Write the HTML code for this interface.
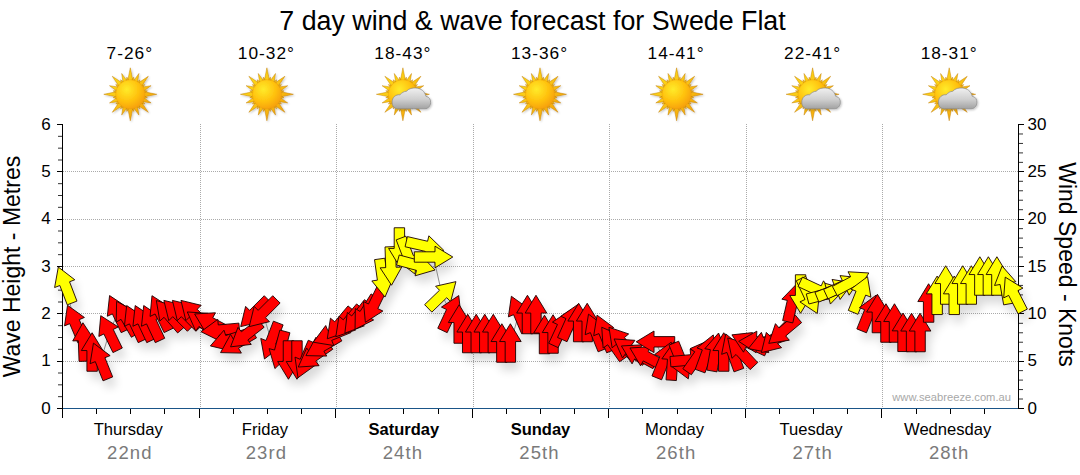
<!DOCTYPE html><html><head><meta charset="utf-8"><style>html,body{margin:0;padding:0;background:#fff;width:1080px;height:475px;overflow:hidden}svg{display:block}text{font-family:"Liberation Sans",sans-serif}</style></head><body>
<svg width="1080" height="475" viewBox="0 0 1080 475">
<defs>
<linearGradient id="rayg" x1="0" y1="0" x2="1" y2="1"><stop offset="0" stop-color="#FFE61A"/><stop offset="1" stop-color="#F29A0A"/></linearGradient>
<radialGradient id="discg" cx="0.38" cy="0.33" r="0.75"><stop offset="0" stop-color="#FFEB2A"/><stop offset="0.55" stop-color="#FFC20E"/><stop offset="1" stop-color="#F59A08"/></radialGradient>
<linearGradient id="cloudg" x1="0" y1="0" x2="0" y2="1"><stop offset="0" stop-color="#F0F0F0"/><stop offset="0.55" stop-color="#CFCFCF"/><stop offset="1" stop-color="#A2A2A2"/></linearGradient>
<filter id="shadow" x="-20%" y="-50%" width="140%" height="200%"><feGaussianBlur in="SourceAlpha" stdDeviation="5"/><feOffset dx="4" dy="8" result="b"/><feComponentTransfer in="b" result="c"><feFuncA type="linear" slope="0.15"/></feComponentTransfer><feMerge><feMergeNode in="c"/></feMerge></filter>
<filter id="icsh" x="-30%" y="-30%" width="160%" height="160%"><feGaussianBlur in="SourceAlpha" stdDeviation="1"/><feOffset dx="1" dy="1" result="b"/><feComponentTransfer in="b" result="c"><feFuncA type="linear" slope="0.25"/></feComponentTransfer><feMerge><feMergeNode in="c"/><feMergeNode in="SourceGraphic"/></feMerge></filter>

<g id="sun"><path d="M0.00,-26.50L2.70,-13.00L-2.70,-13.00ZM3.41,-17.16L4.11,-12.44L0.97,-13.06ZM8.61,-20.79L7.10,-11.13L2.85,-12.89ZM9.72,-14.55L8.55,-9.92L5.89,-11.70ZM18.03,-18.03L10.96,-7.42L7.42,-10.96ZM14.55,-9.72L11.70,-5.89L9.92,-8.55ZM20.79,-8.61L12.89,-2.85L11.13,-7.10ZM17.16,-3.41L13.06,-0.97L12.44,-4.11ZM26.50,-0.00L13.00,2.70L13.00,-2.70ZM17.16,3.41L12.44,4.11L13.06,0.97ZM20.79,8.61L11.13,7.10L12.89,2.85ZM14.55,9.72L9.92,8.55L11.70,5.89ZM18.03,18.03L7.42,10.96L10.96,7.42ZM9.72,14.55L5.89,11.70L8.55,9.92ZM8.61,20.79L2.85,12.89L7.10,11.13ZM3.41,17.16L0.97,13.06L4.11,12.44ZM0.00,26.50L-2.70,13.00L2.70,13.00ZM-3.41,17.16L-4.11,12.44L-0.97,13.06ZM-8.61,20.79L-7.10,11.13L-2.85,12.89ZM-9.72,14.55L-8.55,9.92L-5.89,11.70ZM-18.03,18.03L-10.96,7.42L-7.42,10.96ZM-14.55,9.72L-11.70,5.89L-9.92,8.55ZM-20.79,8.61L-12.89,2.85L-11.13,7.10ZM-17.16,3.41L-13.06,0.97L-12.44,4.11ZM-26.50,0.00L-13.00,-2.70L-13.00,2.70ZM-17.16,-3.41L-12.44,-4.11L-13.06,-0.97ZM-20.79,-8.61L-11.13,-7.10L-12.89,-2.85ZM-14.55,-9.72L-9.92,-8.55L-11.70,-5.89ZM-18.03,-18.03L-7.42,-10.96L-10.96,-7.42ZM-9.72,-14.55L-5.89,-11.70L-8.55,-9.92ZM-8.61,-20.79L-2.85,-12.89L-7.10,-11.13ZM-3.41,-17.16L-0.97,-13.06L-4.11,-12.44Z" fill="url(#rayg)" stroke="#C07A00" stroke-width="0.6" stroke-opacity="0.75"/><circle cx="0" cy="0" r="14.6" fill="url(#discg)" stroke="#E89A10" stroke-width="0.4"/></g>
<g id="cloud"><path d="M-5,14.5 C-9,14.5 -11,11 -10.8,7.5 C-10.6,3 -7,0 -3,0.5 C-1,-1.5 1,-3 3.5,-3 C6,-6 10,-6.5 13,-6.3 C18,-6 22,-3 23,2 C26.5,2.5 28,5.5 27.7,8.5 C27.5,12 25,14.5 22,14.5 Z" fill="url(#cloudg)" stroke="#8A8A8A" stroke-width="0.7"/></g>
</defs>
<text x="532.5" y="29.5" font-size="26.8" text-anchor="middle" fill="#000">7 day wind &amp; wave forecast for Swede Flat</text>
<text x="129.8" y="58.7" font-size="17.3" letter-spacing="1" text-anchor="middle" fill="#000">7-26°</text>
<g transform="translate(130.3,94.3)"><use href="#sun" filter="url(#icsh)"/></g>
<text x="266.4" y="58.7" font-size="17.3" letter-spacing="1" text-anchor="middle" fill="#000">10-32°</text>
<g transform="translate(266.9,94.3)"><use href="#sun" filter="url(#icsh)"/></g>
<text x="402.9" y="58.7" font-size="17.3" letter-spacing="1" text-anchor="middle" fill="#000">18-43°</text>
<g transform="translate(402.9,94.3)"><use href="#sun"/><use href="#cloud" filter="url(#icsh)"/></g>
<text x="539.5" y="58.7" font-size="17.3" letter-spacing="1" text-anchor="middle" fill="#000">13-36°</text>
<g transform="translate(540.0,94.3)"><use href="#sun" filter="url(#icsh)"/></g>
<text x="676.1" y="58.7" font-size="17.3" letter-spacing="1" text-anchor="middle" fill="#000">14-41°</text>
<g transform="translate(676.6,94.3)"><use href="#sun" filter="url(#icsh)"/></g>
<text x="812.6" y="58.7" font-size="17.3" letter-spacing="1" text-anchor="middle" fill="#000">22-41°</text>
<g transform="translate(812.6,94.3)"><use href="#sun"/><use href="#cloud" filter="url(#icsh)"/></g>
<text x="949.2" y="58.7" font-size="17.3" letter-spacing="1" text-anchor="middle" fill="#000">18-31°</text>
<g transform="translate(949.2,94.3)"><use href="#sun"/><use href="#cloud" filter="url(#icsh)"/></g>
<line x1="63" y1="361.5" x2="1018" y2="361.5" stroke="#AAAAAA" stroke-width="1" stroke-dasharray="1 1"/>
<line x1="63" y1="313.5" x2="1018" y2="313.5" stroke="#AAAAAA" stroke-width="1" stroke-dasharray="1 1"/>
<line x1="63" y1="266.5" x2="1018" y2="266.5" stroke="#AAAAAA" stroke-width="1" stroke-dasharray="1 1"/>
<line x1="63" y1="219.5" x2="1018" y2="219.5" stroke="#AAAAAA" stroke-width="1" stroke-dasharray="1 1"/>
<line x1="63" y1="171.5" x2="1018" y2="171.5" stroke="#AAAAAA" stroke-width="1" stroke-dasharray="1 1"/>
<line x1="200.5" y1="124" x2="200.5" y2="408" stroke="#AAAAAA" stroke-width="1" stroke-dasharray="1 1"/>
<line x1="336.5" y1="124" x2="336.5" y2="408" stroke="#AAAAAA" stroke-width="1" stroke-dasharray="1 1"/>
<line x1="473.5" y1="124" x2="473.5" y2="408" stroke="#AAAAAA" stroke-width="1" stroke-dasharray="1 1"/>
<line x1="609.5" y1="124" x2="609.5" y2="408" stroke="#AAAAAA" stroke-width="1" stroke-dasharray="1 1"/>
<line x1="746.5" y1="124" x2="746.5" y2="408" stroke="#AAAAAA" stroke-width="1" stroke-dasharray="1 1"/>
<line x1="882.5" y1="124" x2="882.5" y2="408" stroke="#AAAAAA" stroke-width="1" stroke-dasharray="1 1"/>
<g filter="url(#shadow)"><path d="M58.31,267.03 L74.77,279.78 L69.55,281.78 L76.96,301.11 L67.26,304.83 L59.84,285.51 L54.61,287.52Z"/><path d="M67.53,305.28 L84.42,317.45 L79.27,319.63 L87.36,338.69 L77.78,342.75 L69.69,323.70 L64.54,325.89Z"/><path d="M82.91,322.76 L94.33,340.17 L88.73,340.37 L89.45,361.06 L79.06,361.42 L78.34,340.73 L72.74,340.93Z"/><path d="M92.12,332.75 L102.92,350.55 L97.32,350.55 L97.32,371.25 L86.92,371.25 L86.92,350.55 L81.32,350.55Z"/><path d="M93.44,343.15 L110.13,355.61 L104.93,357.71 L112.69,376.90 L103.04,380.80 L95.29,361.60 L90.10,363.70Z"/><path d="M100.75,315.70 L118.26,326.96 L113.23,329.42 L122.30,348.02 L112.96,352.58 L103.88,333.98 L98.85,336.43Z"/><path d="M109.59,295.55 L126.90,307.12 L121.83,309.49 L130.57,328.25 L121.15,332.64 L112.40,313.88 L107.33,316.25Z"/><path d="M116.64,301.33 L134.89,311.34 L130.04,314.14 L140.39,332.07 L131.38,337.27 L121.03,319.34 L116.18,322.14Z"/><path d="M126.66,305.55 L143.97,317.12 L138.90,319.49 L147.65,338.25 L138.22,342.64 L129.47,323.88 L124.40,326.25Z"/><path d="M135.20,305.55 L152.51,317.12 L147.43,319.49 L156.18,338.25 L146.76,342.64 L138.01,323.88 L132.93,326.25Z"/><path d="M143.73,305.55 L161.04,317.12 L155.97,319.49 L164.72,338.25 L155.29,342.64 L146.54,323.88 L141.47,326.25Z"/><path d="M151.97,295.70 L169.48,306.96 L164.44,309.42 L173.52,328.02 L164.17,332.58 L155.10,313.98 L150.06,316.43Z"/><path d="M156.31,300.47 L176.14,306.82 L171.91,310.49 L185.49,326.12 L177.65,332.94 L164.06,317.32 L159.84,320.99Z"/><path d="M163.86,300.39 L184.09,305.34 L180.13,309.30 L194.76,323.93 L187.41,331.29 L172.77,316.65 L168.81,320.61Z"/><path d="M172.40,300.39 L192.62,305.34 L188.66,309.30 L203.30,323.93 L195.95,331.29 L181.31,316.65 L177.35,320.61Z"/><path d="M180.94,300.39 L201.16,305.34 L197.20,309.30 L211.84,323.93 L204.48,331.29 L189.85,316.65 L185.89,320.61Z"/><path d="M187.31,311.96 L208.09,313.32 L204.88,317.91 L221.83,329.78 L215.87,338.30 L198.91,326.43 L195.70,331.02Z"/><path d="M194.62,313.96 L215.41,312.78 L212.78,317.73 L231.06,327.45 L226.17,336.63 L207.90,326.91 L205.27,331.86Z"/><path d="M200.98,331.68 L217.77,319.37 L218.26,324.95 L238.88,323.14 L239.78,333.50 L219.16,335.31 L219.65,340.89Z"/><path d="M210.38,345.95 L223.97,330.18 L225.70,335.50 L245.39,329.11 L248.61,339.00 L228.92,345.39 L230.65,350.72Z"/><path d="M220.56,352.62 L230.57,334.37 L233.37,339.22 L251.30,328.87 L256.50,337.88 L238.57,348.23 L241.37,353.08Z"/><path d="M230.59,346.85 L237.97,327.38 L241.42,331.80 L257.73,319.05 L264.13,327.25 L247.82,339.99 L251.27,344.40Z"/><path d="M240.69,326.61 L245.64,306.39 L249.60,310.35 L264.23,295.71 L271.59,303.07 L256.95,317.70 L260.91,321.66Z"/><path d="M249.22,326.61 L254.17,306.39 L258.13,310.35 L272.77,295.71 L280.12,303.07 L265.48,317.70 L269.44,321.66Z"/><path d="M264.47,358.97 L260.77,338.48 L265.99,340.49 L273.41,321.17 L283.12,324.89 L275.70,344.22 L280.93,346.22Z"/><path d="M274.92,368.59 L269.10,348.61 L274.51,350.05 L279.86,330.06 L289.91,332.75 L284.55,352.75 L289.96,354.20Z"/><path d="M288.44,379.25 L277.64,361.45 L283.24,361.45 L283.24,340.75 L293.64,340.75 L293.64,361.45 L299.24,361.45Z"/><path d="M296.98,379.25 L286.18,361.45 L291.78,361.45 L291.78,340.75 L302.18,340.75 L302.18,361.45 L307.78,361.45Z"/><path d="M297.99,377.72 L295.00,357.11 L300.16,359.30 L308.25,340.25 L317.82,344.31 L309.73,363.37 L314.89,365.55Z"/><path d="M298.28,367.04 L306.67,347.98 L309.88,352.57 L326.83,340.70 L332.80,349.22 L315.84,361.09 L319.05,365.68Z"/><path d="M305.91,355.62 L315.93,337.37 L318.73,342.22 L336.65,331.87 L341.85,340.88 L323.93,351.23 L326.73,356.08Z"/><path d="M313.27,342.21 L325.73,325.53 L327.83,330.72 L347.02,322.97 L350.92,332.61 L331.72,340.36 L333.82,345.56Z"/><path d="M327.28,338.75 L330.45,318.17 L334.74,321.77 L348.04,305.91 L356.01,312.60 L342.71,328.45 L347.00,332.05Z"/><path d="M335.82,336.75 L338.99,316.17 L343.27,319.77 L356.58,303.91 L364.55,310.60 L351.24,326.45 L355.53,330.05Z"/><path d="M344.87,333.17 L347.32,312.49 L351.74,315.94 L364.48,299.63 L372.68,306.03 L359.93,322.34 L364.34,325.79Z"/><path d="M355.06,329.32 L355.33,308.51 L360.08,311.47 L371.05,293.92 L379.87,299.43 L368.90,316.99 L373.65,319.95Z"/><path d="M365.36,322.30 L363.45,301.57 L368.49,304.02 L377.56,285.42 L386.91,289.98 L377.84,308.58 L382.87,311.04Z"/><path d="M385.01,297.06 L371.84,280.94 L377.39,280.16 L374.50,259.66 L384.80,258.21 L387.68,278.71 L393.23,277.93Z"/><path d="M391.54,285.24 L380.13,267.83 L385.72,267.63 L385.00,246.94 L395.39,246.58 L396.12,267.27 L401.71,267.07Z"/><path d="M399.40,266.25 L388.60,248.45 L394.20,248.45 L394.20,227.75 L404.60,227.75 L404.60,248.45 L410.20,248.45Z"/><path d="M414.84,273.97 L398.38,261.22 L403.61,259.22 L396.19,239.89 L405.90,236.17 L413.31,255.49 L418.54,253.48Z"/><path d="M435.07,269.98 L415.08,275.81 L416.53,270.40 L396.54,265.04 L399.23,254.99 L419.22,260.35 L420.67,254.94Z"/><path d="M443.77,250.33 L424.00,256.85 L425.25,251.39 L405.09,246.74 L407.42,236.60 L427.59,241.26 L428.85,235.80Z"/><path d="M452.80,257.00 L435.00,267.80 L435.00,262.20 L414.30,262.20 L414.30,251.80 L435.00,251.80 L435.00,246.20Z"/><path d="M455.93,281.63 L450.63,301.76 L446.74,297.73 L431.85,312.11 L424.62,304.63 L439.51,290.25 L435.62,286.22Z"/><path d="M458.75,295.55 L461.02,316.25 L455.94,313.88 L447.20,332.64 L437.77,328.25 L446.52,309.49 L441.44,307.12Z"/><path d="M459.15,304.75 L469.95,322.55 L464.35,322.55 L464.35,343.25 L453.95,343.25 L453.95,322.55 L448.35,322.55Z"/><path d="M467.69,314.25 L478.49,332.05 L472.89,332.05 L472.89,352.75 L462.49,352.75 L462.49,332.05 L456.89,332.05Z"/><path d="M476.23,314.25 L487.03,332.05 L481.43,332.05 L481.43,352.75 L471.03,352.75 L471.03,332.05 L465.43,332.05Z"/><path d="M484.76,314.25 L495.56,332.05 L489.96,332.05 L489.96,352.75 L479.56,352.75 L479.56,332.05 L473.96,332.05Z"/><path d="M493.30,314.25 L504.10,332.05 L498.50,332.05 L498.50,352.75 L488.10,352.75 L488.10,332.05 L482.50,332.05Z"/><path d="M501.83,323.75 L512.63,341.55 L507.03,341.55 L507.03,362.25 L496.63,362.25 L496.63,341.55 L491.03,341.55Z"/><path d="M510.37,323.75 L521.17,341.55 L515.57,341.55 L515.57,362.25 L505.17,362.25 L505.17,341.55 L499.57,341.55Z"/><path d="M511.38,296.28 L528.28,308.45 L523.12,310.63 L531.21,329.69 L521.64,333.75 L513.55,314.70 L508.40,316.89Z"/><path d="M527.44,295.25 L538.24,313.05 L532.64,313.05 L532.64,333.75 L522.24,333.75 L522.24,313.05 L516.64,313.05Z"/><path d="M535.98,295.25 L546.78,313.05 L541.18,313.05 L541.18,333.75 L530.78,333.75 L530.78,313.05 L525.18,313.05Z"/><path d="M544.51,315.25 L555.31,333.05 L549.71,333.05 L549.71,353.75 L539.31,353.75 L539.31,333.05 L533.71,333.05Z"/><path d="M553.05,314.75 L563.85,332.55 L558.25,332.55 L558.25,353.25 L547.85,353.25 L547.85,332.55 L542.25,332.55Z"/><path d="M569.72,310.55 L571.98,331.25 L566.91,328.88 L558.16,347.64 L548.74,343.25 L557.48,324.49 L552.41,322.12Z"/><path d="M577.95,304.41 L580.57,325.07 L575.46,322.79 L567.04,341.70 L557.54,337.47 L565.96,318.56 L560.84,316.28Z"/><path d="M578.65,303.25 L589.45,321.05 L583.85,321.05 L583.85,341.75 L573.45,341.75 L573.45,321.05 L567.85,321.05Z"/><path d="M587.19,303.25 L597.99,321.05 L592.39,321.05 L592.39,341.75 L581.99,341.75 L581.99,321.05 L576.39,321.05Z"/><path d="M588.51,314.15 L605.20,326.61 L600.00,328.71 L607.76,347.90 L598.12,351.80 L590.36,332.60 L585.17,334.70Z"/><path d="M597.05,315.15 L613.73,327.61 L608.54,329.71 L616.29,348.90 L606.65,352.80 L598.90,333.60 L593.71,335.70Z"/><path d="M601.76,327.23 L620.81,335.62 L616.23,338.83 L628.10,355.79 L619.58,361.75 L607.71,344.79 L603.12,348.01Z"/><path d="M608.96,327.25 L628.67,333.95 L624.38,337.55 L637.69,353.40 L629.72,360.09 L616.42,344.23 L612.13,347.83Z"/><path d="M614.10,338.96 L634.88,340.32 L631.66,344.91 L648.62,356.78 L642.66,365.30 L625.70,353.43 L622.49,358.02Z"/><path d="M621.41,345.96 L642.19,344.78 L639.57,349.73 L657.84,359.45 L652.96,368.63 L634.68,358.91 L632.05,363.86Z"/><path d="M629.94,347.96 L650.73,346.78 L648.10,351.73 L666.38,361.45 L661.50,370.63 L643.22,360.91 L640.59,365.86Z"/><path d="M636.23,341.80 L654.03,331.00 L654.03,336.60 L674.73,336.60 L674.73,347.00 L654.03,347.00 L654.03,352.60Z"/><path d="M671.22,342.15 L674.57,362.70 L669.38,360.60 L661.62,379.80 L651.98,375.90 L659.73,356.71 L654.54,354.61Z"/><path d="M673.89,341.80 L683.42,360.31 L677.84,359.92 L676.39,380.57 L666.02,379.84 L667.46,359.19 L661.87,358.80Z"/><path d="M688.29,378.85 L671.61,366.39 L676.81,364.29 L669.05,345.10 L678.69,341.20 L686.45,360.40 L691.64,358.30Z"/><path d="M708.80,358.32 L692.00,370.63 L691.52,365.05 L670.90,366.86 L669.99,356.50 L690.61,354.69 L690.12,349.11Z"/><path d="M709.20,340.23 L707.83,361.01 L703.25,357.79 L691.37,374.75 L682.85,368.79 L694.73,351.83 L690.14,348.62Z"/><path d="M713.27,334.91 L717.33,355.33 L712.07,353.42 L704.99,372.87 L695.22,369.31 L702.30,349.86 L697.04,347.94Z"/><path d="M718.57,333.04 L726.11,352.45 L720.60,351.47 L717.00,371.86 L706.76,370.05 L710.36,349.67 L704.84,348.70Z"/><path d="M723.76,332.75 L734.56,350.55 L728.96,350.55 L728.96,371.25 L718.56,371.25 L718.56,350.55 L712.96,350.55Z"/><path d="M725.71,333.91 L741.95,346.94 L736.69,348.86 L743.77,368.31 L733.99,371.87 L726.92,352.42 L721.65,354.33Z"/><path d="M727.70,337.92 L747.74,343.57 L743.65,347.39 L757.76,362.53 L750.16,369.62 L736.04,354.49 L731.95,358.31Z"/><path d="M731.92,334.86 L752.62,332.60 L750.25,337.67 L769.01,346.42 L764.62,355.85 L745.86,347.10 L743.49,352.18Z"/><path d="M738.67,341.33 L756.83,331.16 L756.64,336.75 L777.32,337.47 L776.96,347.87 L756.27,347.15 L756.08,352.74Z"/><path d="M748.35,348.58 L761.38,332.35 L763.30,337.61 L782.75,330.53 L786.31,340.30 L766.86,347.38 L768.77,352.64Z"/><path d="M761.36,352.61 L766.31,332.39 L770.27,336.35 L784.91,321.71 L792.26,329.07 L777.63,343.70 L781.59,347.66Z"/><path d="M768.77,343.37 L775.46,323.66 L779.06,327.95 L794.92,314.64 L801.60,322.61 L785.74,335.92 L789.34,340.21Z"/><path d="M796.38,284.24 L802.90,304.02 L797.44,302.76 L792.78,322.93 L782.65,320.59 L787.31,300.42 L781.85,299.16Z"/><path d="M800.58,313.25 L789.78,295.45 L795.38,295.45 L795.38,274.75 L805.78,274.75 L805.78,295.45 L811.38,295.45Z"/><path d="M817.25,313.45 L799.94,301.88 L805.02,299.51 L796.27,280.75 L805.70,276.36 L814.44,295.12 L819.52,292.75Z"/><path d="M835.10,298.14 L814.40,300.40 L816.77,295.33 L798.01,286.58 L802.41,277.15 L821.17,285.90 L823.53,280.82Z"/><path d="M844.78,289.02 L830.39,304.06 L828.94,298.65 L808.94,304.01 L806.25,293.96 L826.25,288.60 L824.80,283.19Z"/><path d="M852.57,282.79 L840.12,299.47 L838.02,294.28 L818.83,302.03 L814.93,292.39 L834.12,284.64 L832.02,279.44Z"/><path d="M860.71,277.86 L849.14,295.18 L846.77,290.10 L828.01,298.85 L823.62,289.42 L842.38,280.67 L840.01,275.60Z"/><path d="M868.79,272.96 L858.15,290.86 L855.52,285.91 L837.24,295.63 L832.36,286.45 L850.64,276.73 L848.01,271.78Z"/><path d="M867.54,276.65 L870.89,297.20 L865.70,295.10 L857.94,314.30 L848.30,310.40 L856.06,291.21 L850.86,289.11Z"/><path d="M876.08,295.15 L879.43,315.70 L874.23,313.60 L866.48,332.80 L856.84,328.90 L864.59,309.71 L859.40,307.61Z"/><path d="M877.40,294.25 L888.20,312.05 L882.60,312.05 L882.60,332.75 L872.20,332.75 L872.20,312.05 L866.60,312.05Z"/><path d="M885.94,303.75 L896.74,321.55 L891.14,321.55 L891.14,342.25 L880.74,342.25 L880.74,321.55 L875.14,321.55Z"/><path d="M894.48,303.75 L905.28,321.55 L899.68,321.55 L899.68,342.25 L889.28,342.25 L889.28,321.55 L883.68,321.55Z"/><path d="M903.01,313.05 L913.81,330.85 L908.21,330.85 L908.21,351.55 L897.81,351.55 L897.81,330.85 L892.21,330.85Z"/><path d="M911.55,313.25 L922.35,331.05 L916.75,331.05 L916.75,351.75 L906.35,351.75 L906.35,331.05 L900.75,331.05Z"/><path d="M920.08,313.25 L930.88,331.05 L925.28,331.05 L925.28,351.75 L914.88,351.75 L914.88,331.05 L909.28,331.05Z"/><path d="M928.62,283.75 L939.42,301.55 L933.82,301.55 L933.82,322.25 L923.42,322.25 L923.42,301.55 L917.82,301.55Z"/><path d="M937.15,276.05 L947.95,293.85 L942.35,293.85 L942.35,314.55 L931.95,314.55 L931.95,293.85 L926.35,293.85Z"/><path d="M945.69,265.75 L956.49,283.55 L950.89,283.55 L950.89,304.25 L940.49,304.25 L940.49,283.55 L934.89,283.55Z"/><path d="M954.23,276.05 L965.03,293.85 L959.43,293.85 L959.43,314.55 L949.03,314.55 L949.03,293.85 L943.43,293.85Z"/><path d="M962.76,265.75 L973.56,283.55 L967.96,283.55 L967.96,304.25 L957.56,304.25 L957.56,283.55 L951.96,283.55Z"/><path d="M971.30,265.75 L982.10,283.55 L976.50,283.55 L976.50,304.25 L966.10,304.25 L966.10,283.55 L960.50,283.55Z"/><path d="M979.83,256.75 L990.63,274.55 L985.03,274.55 L985.03,295.25 L974.63,295.25 L974.63,274.55 L969.03,274.55Z"/><path d="M988.37,256.75 L999.17,274.55 L993.57,274.55 L993.57,295.25 L983.17,295.25 L983.17,274.55 L977.57,274.55Z"/><path d="M996.90,256.75 L1007.70,274.55 L1002.10,274.55 L1002.10,295.25 L991.70,295.25 L991.70,274.55 L986.10,274.55Z"/><path d="M1002.10,266.04 L1015.82,281.70 L1010.31,282.67 L1013.90,303.05 L1003.66,304.86 L1000.07,284.47 L994.55,285.45Z"/><path d="M1005.24,277.15 L1022.94,288.10 L1017.95,290.65 L1027.35,309.09 L1018.08,313.81 L1008.68,295.37 L1003.69,297.91Z"/></g>
<polyline fill="none" stroke="#8C8C8C" stroke-width="1" points="65.2,285.0 75.0,323.0 83.6,342.0 92.1,352.0 100.7,361.0 109.2,333.0 117.7,313.0 126.3,318.0 134.8,323.0 143.3,323.0 151.9,323.0 160.4,313.0 168.9,315.0 177.5,314.0 186.0,314.0 194.5,314.0 203.1,323.0 211.6,323.0 220.2,330.0 228.7,340.0 237.2,343.0 245.8,335.0 254.3,313.0 262.8,313.0 271.4,341.0 279.9,350.0 288.4,360.0 297.0,360.0 305.5,360.0 314.0,356.0 322.6,346.0 331.1,335.0 339.7,324.0 348.2,322.0 356.7,318.0 365.3,313.0 373.8,305.0 382.3,278.0 390.9,266.0 399.4,247.0 407.9,256.0 416.5,265.0 425.0,246.0 433.5,257.0 442.1,295.0 450.6,313.0 459.2,324.0 467.7,333.5 476.2,333.5 484.8,333.5 493.3,333.5 501.8,343.0 510.4,343.0 518.9,314.0 527.4,314.5 536.0,314.5 544.5,334.5 553.0,334.0 561.6,328.0 570.1,322.0 578.7,322.5 587.2,322.5 595.7,332.0 604.3,333.0 612.8,343.0 621.3,342.0 629.9,350.0 638.4,355.0 646.9,357.0 655.5,341.8 664.0,360.0 672.5,361.0 681.1,361.0 689.6,360.0 698.2,356.0 706.7,353.0 715.2,352.0 723.8,352.0 732.3,352.0 740.8,352.0 749.4,343.0 757.9,342.0 766.4,342.0 775.0,339.0 783.5,331.0 792.0,303.0 800.6,294.0 809.1,296.0 817.7,290.0 826.2,294.0 834.7,290.0 843.3,286.0 851.8,282.0 860.3,294.5 868.9,313.0 877.4,313.5 885.9,323.0 894.5,323.0 903.0,332.3 911.5,332.5 920.1,332.5 928.6,303.0 937.2,295.3 945.7,285.0 954.2,295.3 962.8,285.0 971.3,285.0 979.8,276.0 988.4,276.0 996.9,276.0 1005.4,285.0 1014.0,294.3"/>
<g stroke="#000" stroke-width="1" shape-rendering="crispEdges">
<line x1="62.5" y1="124" x2="62.5" y2="418"/>
<line x1="1018.5" y1="124" x2="1018.5" y2="409"/>
<line x1="57" y1="408.5" x2="62" y2="408.5"/>
<line x1="57" y1="361.5" x2="62" y2="361.5"/>
<line x1="57" y1="313.5" x2="62" y2="313.5"/>
<line x1="57" y1="266.5" x2="62" y2="266.5"/>
<line x1="57" y1="219.5" x2="62" y2="219.5"/>
<line x1="57" y1="171.5" x2="62" y2="171.5"/>
<line x1="57" y1="124.5" x2="62" y2="124.5"/>
</g>
<g stroke="#000" stroke-width="1">
<line x1="58" y1="396.67" x2="62" y2="396.67" stroke-opacity="0.8"/>
<line x1="58" y1="384.83" x2="62" y2="384.83" stroke-opacity="0.8"/>
<line x1="58" y1="373.00" x2="62" y2="373.00" stroke-opacity="0.8"/>
<line x1="58" y1="349.33" x2="62" y2="349.33" stroke-opacity="0.8"/>
<line x1="58" y1="337.50" x2="62" y2="337.50" stroke-opacity="0.8"/>
<line x1="58" y1="325.67" x2="62" y2="325.67" stroke-opacity="0.8"/>
<line x1="58" y1="302.00" x2="62" y2="302.00" stroke-opacity="0.8"/>
<line x1="58" y1="290.17" x2="62" y2="290.17" stroke-opacity="0.8"/>
<line x1="58" y1="278.33" x2="62" y2="278.33" stroke-opacity="0.8"/>
<line x1="58" y1="254.67" x2="62" y2="254.67" stroke-opacity="0.8"/>
<line x1="58" y1="242.83" x2="62" y2="242.83" stroke-opacity="0.8"/>
<line x1="58" y1="231.00" x2="62" y2="231.00" stroke-opacity="0.8"/>
<line x1="58" y1="207.33" x2="62" y2="207.33" stroke-opacity="0.8"/>
<line x1="58" y1="195.50" x2="62" y2="195.50" stroke-opacity="0.8"/>
<line x1="58" y1="183.67" x2="62" y2="183.67" stroke-opacity="0.8"/>
<line x1="58" y1="160.00" x2="62" y2="160.00" stroke-opacity="0.8"/>
<line x1="58" y1="148.17" x2="62" y2="148.17" stroke-opacity="0.8"/>
<line x1="58" y1="136.34" x2="62" y2="136.34" stroke-opacity="0.8"/>
<line x1="1019" y1="408.5" x2="1024" y2="408.5" shape-rendering="crispEdges"/>
<line x1="1019" y1="399.03" x2="1023" y2="399.03" stroke-opacity="0.8"/>
<line x1="1019" y1="389.57" x2="1023" y2="389.57" stroke-opacity="0.8"/>
<line x1="1019" y1="380.10" x2="1023" y2="380.10" stroke-opacity="0.8"/>
<line x1="1019" y1="370.63" x2="1023" y2="370.63" stroke-opacity="0.8"/>
<line x1="1019" y1="361.5" x2="1024" y2="361.5" shape-rendering="crispEdges"/>
<line x1="1019" y1="351.70" x2="1023" y2="351.70" stroke-opacity="0.8"/>
<line x1="1019" y1="342.23" x2="1023" y2="342.23" stroke-opacity="0.8"/>
<line x1="1019" y1="332.77" x2="1023" y2="332.77" stroke-opacity="0.8"/>
<line x1="1019" y1="323.30" x2="1023" y2="323.30" stroke-opacity="0.8"/>
<line x1="1019" y1="313.5" x2="1024" y2="313.5" shape-rendering="crispEdges"/>
<line x1="1019" y1="304.37" x2="1023" y2="304.37" stroke-opacity="0.8"/>
<line x1="1019" y1="294.90" x2="1023" y2="294.90" stroke-opacity="0.8"/>
<line x1="1019" y1="285.43" x2="1023" y2="285.43" stroke-opacity="0.8"/>
<line x1="1019" y1="275.97" x2="1023" y2="275.97" stroke-opacity="0.8"/>
<line x1="1019" y1="266.5" x2="1024" y2="266.5" shape-rendering="crispEdges"/>
<line x1="1019" y1="257.03" x2="1023" y2="257.03" stroke-opacity="0.8"/>
<line x1="1019" y1="247.57" x2="1023" y2="247.57" stroke-opacity="0.8"/>
<line x1="1019" y1="238.10" x2="1023" y2="238.10" stroke-opacity="0.8"/>
<line x1="1019" y1="228.63" x2="1023" y2="228.63" stroke-opacity="0.8"/>
<line x1="1019" y1="219.5" x2="1024" y2="219.5" shape-rendering="crispEdges"/>
<line x1="1019" y1="209.70" x2="1023" y2="209.70" stroke-opacity="0.8"/>
<line x1="1019" y1="200.23" x2="1023" y2="200.23" stroke-opacity="0.8"/>
<line x1="1019" y1="190.77" x2="1023" y2="190.77" stroke-opacity="0.8"/>
<line x1="1019" y1="181.30" x2="1023" y2="181.30" stroke-opacity="0.8"/>
<line x1="1019" y1="171.5" x2="1024" y2="171.5" shape-rendering="crispEdges"/>
<line x1="1019" y1="162.37" x2="1023" y2="162.37" stroke-opacity="0.8"/>
<line x1="1019" y1="152.90" x2="1023" y2="152.90" stroke-opacity="0.8"/>
<line x1="1019" y1="143.44" x2="1023" y2="143.44" stroke-opacity="0.8"/>
<line x1="1019" y1="133.97" x2="1023" y2="133.97" stroke-opacity="0.8"/>
<line x1="1019" y1="124.5" x2="1024" y2="124.5" shape-rendering="crispEdges"/>
</g>
<line x1="63" y1="408.5" x2="1018" y2="408.5" stroke="#1A5588" stroke-width="1" shape-rendering="crispEdges"/>
<g stroke="#000" stroke-width="1" shape-rendering="crispEdges">
<line x1="62.5" y1="409" x2="62.5" y2="418"/>
<line x1="96.5" y1="409" x2="96.5" y2="414"/>
<line x1="130.5" y1="409" x2="130.5" y2="414"/>
<line x1="164.5" y1="409" x2="164.5" y2="414"/>
<line x1="199.5" y1="409" x2="199.5" y2="418"/>
<line x1="233.5" y1="409" x2="233.5" y2="414"/>
<line x1="267.5" y1="409" x2="267.5" y2="414"/>
<line x1="301.5" y1="409" x2="301.5" y2="414"/>
<line x1="335.5" y1="409" x2="335.5" y2="418"/>
<line x1="369.5" y1="409" x2="369.5" y2="414"/>
<line x1="403.5" y1="409" x2="403.5" y2="414"/>
<line x1="438.5" y1="409" x2="438.5" y2="414"/>
<line x1="472.5" y1="409" x2="472.5" y2="418"/>
<line x1="506.5" y1="409" x2="506.5" y2="414"/>
<line x1="540.5" y1="409" x2="540.5" y2="414"/>
<line x1="574.5" y1="409" x2="574.5" y2="414"/>
<line x1="608.5" y1="409" x2="608.5" y2="418"/>
<line x1="642.5" y1="409" x2="642.5" y2="414"/>
<line x1="677.5" y1="409" x2="677.5" y2="414"/>
<line x1="711.5" y1="409" x2="711.5" y2="414"/>
<line x1="745.5" y1="409" x2="745.5" y2="418"/>
<line x1="779.5" y1="409" x2="779.5" y2="414"/>
<line x1="813.5" y1="409" x2="813.5" y2="414"/>
<line x1="847.5" y1="409" x2="847.5" y2="414"/>
<line x1="881.5" y1="409" x2="881.5" y2="418"/>
<line x1="916.5" y1="409" x2="916.5" y2="414"/>
<line x1="950.5" y1="409" x2="950.5" y2="414"/>
<line x1="984.5" y1="409" x2="984.5" y2="414"/>
</g>
<path d="M58.31,267.03 L74.77,279.78 L69.55,281.78 L76.96,301.11 L67.26,304.83 L59.84,285.51 L54.61,287.52Z" fill="#FFFF00" stroke="#1a0000" stroke-width="0.9" stroke-linejoin="miter"/>
<path d="M67.53,305.28 L84.42,317.45 L79.27,319.63 L87.36,338.69 L77.78,342.75 L69.69,323.70 L64.54,325.89Z" fill="#FF0000" stroke="#1a0000" stroke-width="0.9" stroke-linejoin="miter"/>
<path d="M82.91,322.76 L94.33,340.17 L88.73,340.37 L89.45,361.06 L79.06,361.42 L78.34,340.73 L72.74,340.93Z" fill="#FF0000" stroke="#1a0000" stroke-width="0.9" stroke-linejoin="miter"/>
<path d="M92.12,332.75 L102.92,350.55 L97.32,350.55 L97.32,371.25 L86.92,371.25 L86.92,350.55 L81.32,350.55Z" fill="#FF0000" stroke="#1a0000" stroke-width="0.9" stroke-linejoin="miter"/>
<path d="M93.44,343.15 L110.13,355.61 L104.93,357.71 L112.69,376.90 L103.04,380.80 L95.29,361.60 L90.10,363.70Z" fill="#FF0000" stroke="#1a0000" stroke-width="0.9" stroke-linejoin="miter"/>
<path d="M100.75,315.70 L118.26,326.96 L113.23,329.42 L122.30,348.02 L112.96,352.58 L103.88,333.98 L98.85,336.43Z" fill="#FF0000" stroke="#1a0000" stroke-width="0.9" stroke-linejoin="miter"/>
<path d="M109.59,295.55 L126.90,307.12 L121.83,309.49 L130.57,328.25 L121.15,332.64 L112.40,313.88 L107.33,316.25Z" fill="#FF0000" stroke="#1a0000" stroke-width="0.9" stroke-linejoin="miter"/>
<path d="M116.64,301.33 L134.89,311.34 L130.04,314.14 L140.39,332.07 L131.38,337.27 L121.03,319.34 L116.18,322.14Z" fill="#FF0000" stroke="#1a0000" stroke-width="0.9" stroke-linejoin="miter"/>
<path d="M126.66,305.55 L143.97,317.12 L138.90,319.49 L147.65,338.25 L138.22,342.64 L129.47,323.88 L124.40,326.25Z" fill="#FF0000" stroke="#1a0000" stroke-width="0.9" stroke-linejoin="miter"/>
<path d="M135.20,305.55 L152.51,317.12 L147.43,319.49 L156.18,338.25 L146.76,342.64 L138.01,323.88 L132.93,326.25Z" fill="#FF0000" stroke="#1a0000" stroke-width="0.9" stroke-linejoin="miter"/>
<path d="M143.73,305.55 L161.04,317.12 L155.97,319.49 L164.72,338.25 L155.29,342.64 L146.54,323.88 L141.47,326.25Z" fill="#FF0000" stroke="#1a0000" stroke-width="0.9" stroke-linejoin="miter"/>
<path d="M151.97,295.70 L169.48,306.96 L164.44,309.42 L173.52,328.02 L164.17,332.58 L155.10,313.98 L150.06,316.43Z" fill="#FF0000" stroke="#1a0000" stroke-width="0.9" stroke-linejoin="miter"/>
<path d="M156.31,300.47 L176.14,306.82 L171.91,310.49 L185.49,326.12 L177.65,332.94 L164.06,317.32 L159.84,320.99Z" fill="#FF0000" stroke="#1a0000" stroke-width="0.9" stroke-linejoin="miter"/>
<path d="M163.86,300.39 L184.09,305.34 L180.13,309.30 L194.76,323.93 L187.41,331.29 L172.77,316.65 L168.81,320.61Z" fill="#FF0000" stroke="#1a0000" stroke-width="0.9" stroke-linejoin="miter"/>
<path d="M172.40,300.39 L192.62,305.34 L188.66,309.30 L203.30,323.93 L195.95,331.29 L181.31,316.65 L177.35,320.61Z" fill="#FF0000" stroke="#1a0000" stroke-width="0.9" stroke-linejoin="miter"/>
<path d="M180.94,300.39 L201.16,305.34 L197.20,309.30 L211.84,323.93 L204.48,331.29 L189.85,316.65 L185.89,320.61Z" fill="#FF0000" stroke="#1a0000" stroke-width="0.9" stroke-linejoin="miter"/>
<path d="M187.31,311.96 L208.09,313.32 L204.88,317.91 L221.83,329.78 L215.87,338.30 L198.91,326.43 L195.70,331.02Z" fill="#FF0000" stroke="#1a0000" stroke-width="0.9" stroke-linejoin="miter"/>
<path d="M194.62,313.96 L215.41,312.78 L212.78,317.73 L231.06,327.45 L226.17,336.63 L207.90,326.91 L205.27,331.86Z" fill="#FF0000" stroke="#1a0000" stroke-width="0.9" stroke-linejoin="miter"/>
<path d="M200.98,331.68 L217.77,319.37 L218.26,324.95 L238.88,323.14 L239.78,333.50 L219.16,335.31 L219.65,340.89Z" fill="#FF0000" stroke="#1a0000" stroke-width="0.9" stroke-linejoin="miter"/>
<path d="M210.38,345.95 L223.97,330.18 L225.70,335.50 L245.39,329.11 L248.61,339.00 L228.92,345.39 L230.65,350.72Z" fill="#FF0000" stroke="#1a0000" stroke-width="0.9" stroke-linejoin="miter"/>
<path d="M220.56,352.62 L230.57,334.37 L233.37,339.22 L251.30,328.87 L256.50,337.88 L238.57,348.23 L241.37,353.08Z" fill="#FF0000" stroke="#1a0000" stroke-width="0.9" stroke-linejoin="miter"/>
<path d="M230.59,346.85 L237.97,327.38 L241.42,331.80 L257.73,319.05 L264.13,327.25 L247.82,339.99 L251.27,344.40Z" fill="#FF0000" stroke="#1a0000" stroke-width="0.9" stroke-linejoin="miter"/>
<path d="M240.69,326.61 L245.64,306.39 L249.60,310.35 L264.23,295.71 L271.59,303.07 L256.95,317.70 L260.91,321.66Z" fill="#FF0000" stroke="#1a0000" stroke-width="0.9" stroke-linejoin="miter"/>
<path d="M249.22,326.61 L254.17,306.39 L258.13,310.35 L272.77,295.71 L280.12,303.07 L265.48,317.70 L269.44,321.66Z" fill="#FF0000" stroke="#1a0000" stroke-width="0.9" stroke-linejoin="miter"/>
<path d="M264.47,358.97 L260.77,338.48 L265.99,340.49 L273.41,321.17 L283.12,324.89 L275.70,344.22 L280.93,346.22Z" fill="#FF0000" stroke="#1a0000" stroke-width="0.9" stroke-linejoin="miter"/>
<path d="M274.92,368.59 L269.10,348.61 L274.51,350.05 L279.86,330.06 L289.91,332.75 L284.55,352.75 L289.96,354.20Z" fill="#FF0000" stroke="#1a0000" stroke-width="0.9" stroke-linejoin="miter"/>
<path d="M288.44,379.25 L277.64,361.45 L283.24,361.45 L283.24,340.75 L293.64,340.75 L293.64,361.45 L299.24,361.45Z" fill="#FF0000" stroke="#1a0000" stroke-width="0.9" stroke-linejoin="miter"/>
<path d="M296.98,379.25 L286.18,361.45 L291.78,361.45 L291.78,340.75 L302.18,340.75 L302.18,361.45 L307.78,361.45Z" fill="#FF0000" stroke="#1a0000" stroke-width="0.9" stroke-linejoin="miter"/>
<path d="M297.99,377.72 L295.00,357.11 L300.16,359.30 L308.25,340.25 L317.82,344.31 L309.73,363.37 L314.89,365.55Z" fill="#FF0000" stroke="#1a0000" stroke-width="0.9" stroke-linejoin="miter"/>
<path d="M298.28,367.04 L306.67,347.98 L309.88,352.57 L326.83,340.70 L332.80,349.22 L315.84,361.09 L319.05,365.68Z" fill="#FF0000" stroke="#1a0000" stroke-width="0.9" stroke-linejoin="miter"/>
<path d="M305.91,355.62 L315.93,337.37 L318.73,342.22 L336.65,331.87 L341.85,340.88 L323.93,351.23 L326.73,356.08Z" fill="#FF0000" stroke="#1a0000" stroke-width="0.9" stroke-linejoin="miter"/>
<path d="M313.27,342.21 L325.73,325.53 L327.83,330.72 L347.02,322.97 L350.92,332.61 L331.72,340.36 L333.82,345.56Z" fill="#FF0000" stroke="#1a0000" stroke-width="0.9" stroke-linejoin="miter"/>
<path d="M327.28,338.75 L330.45,318.17 L334.74,321.77 L348.04,305.91 L356.01,312.60 L342.71,328.45 L347.00,332.05Z" fill="#FF0000" stroke="#1a0000" stroke-width="0.9" stroke-linejoin="miter"/>
<path d="M335.82,336.75 L338.99,316.17 L343.27,319.77 L356.58,303.91 L364.55,310.60 L351.24,326.45 L355.53,330.05Z" fill="#FF0000" stroke="#1a0000" stroke-width="0.9" stroke-linejoin="miter"/>
<path d="M344.87,333.17 L347.32,312.49 L351.74,315.94 L364.48,299.63 L372.68,306.03 L359.93,322.34 L364.34,325.79Z" fill="#FF0000" stroke="#1a0000" stroke-width="0.9" stroke-linejoin="miter"/>
<path d="M355.06,329.32 L355.33,308.51 L360.08,311.47 L371.05,293.92 L379.87,299.43 L368.90,316.99 L373.65,319.95Z" fill="#FF0000" stroke="#1a0000" stroke-width="0.9" stroke-linejoin="miter"/>
<path d="M365.36,322.30 L363.45,301.57 L368.49,304.02 L377.56,285.42 L386.91,289.98 L377.84,308.58 L382.87,311.04Z" fill="#FF0000" stroke="#1a0000" stroke-width="0.9" stroke-linejoin="miter"/>
<path d="M385.01,297.06 L371.84,280.94 L377.39,280.16 L374.50,259.66 L384.80,258.21 L387.68,278.71 L393.23,277.93Z" fill="#FFFF00" stroke="#1a0000" stroke-width="0.9" stroke-linejoin="miter"/>
<path d="M391.54,285.24 L380.13,267.83 L385.72,267.63 L385.00,246.94 L395.39,246.58 L396.12,267.27 L401.71,267.07Z" fill="#FFFF00" stroke="#1a0000" stroke-width="0.9" stroke-linejoin="miter"/>
<path d="M399.40,266.25 L388.60,248.45 L394.20,248.45 L394.20,227.75 L404.60,227.75 L404.60,248.45 L410.20,248.45Z" fill="#FFFF00" stroke="#1a0000" stroke-width="0.9" stroke-linejoin="miter"/>
<path d="M414.84,273.97 L398.38,261.22 L403.61,259.22 L396.19,239.89 L405.90,236.17 L413.31,255.49 L418.54,253.48Z" fill="#FFFF00" stroke="#1a0000" stroke-width="0.9" stroke-linejoin="miter"/>
<path d="M435.07,269.98 L415.08,275.81 L416.53,270.40 L396.54,265.04 L399.23,254.99 L419.22,260.35 L420.67,254.94Z" fill="#FFFF00" stroke="#1a0000" stroke-width="0.9" stroke-linejoin="miter"/>
<path d="M443.77,250.33 L424.00,256.85 L425.25,251.39 L405.09,246.74 L407.42,236.60 L427.59,241.26 L428.85,235.80Z" fill="#FFFF00" stroke="#1a0000" stroke-width="0.9" stroke-linejoin="miter"/>
<path d="M452.80,257.00 L435.00,267.80 L435.00,262.20 L414.30,262.20 L414.30,251.80 L435.00,251.80 L435.00,246.20Z" fill="#FFFF00" stroke="#1a0000" stroke-width="0.9" stroke-linejoin="miter"/>
<path d="M455.93,281.63 L450.63,301.76 L446.74,297.73 L431.85,312.11 L424.62,304.63 L439.51,290.25 L435.62,286.22Z" fill="#FFFF00" stroke="#1a0000" stroke-width="0.9" stroke-linejoin="miter"/>
<path d="M458.75,295.55 L461.02,316.25 L455.94,313.88 L447.20,332.64 L437.77,328.25 L446.52,309.49 L441.44,307.12Z" fill="#FF0000" stroke="#1a0000" stroke-width="0.9" stroke-linejoin="miter"/>
<path d="M459.15,304.75 L469.95,322.55 L464.35,322.55 L464.35,343.25 L453.95,343.25 L453.95,322.55 L448.35,322.55Z" fill="#FF0000" stroke="#1a0000" stroke-width="0.9" stroke-linejoin="miter"/>
<path d="M467.69,314.25 L478.49,332.05 L472.89,332.05 L472.89,352.75 L462.49,352.75 L462.49,332.05 L456.89,332.05Z" fill="#FF0000" stroke="#1a0000" stroke-width="0.9" stroke-linejoin="miter"/>
<path d="M476.23,314.25 L487.03,332.05 L481.43,332.05 L481.43,352.75 L471.03,352.75 L471.03,332.05 L465.43,332.05Z" fill="#FF0000" stroke="#1a0000" stroke-width="0.9" stroke-linejoin="miter"/>
<path d="M484.76,314.25 L495.56,332.05 L489.96,332.05 L489.96,352.75 L479.56,352.75 L479.56,332.05 L473.96,332.05Z" fill="#FF0000" stroke="#1a0000" stroke-width="0.9" stroke-linejoin="miter"/>
<path d="M493.30,314.25 L504.10,332.05 L498.50,332.05 L498.50,352.75 L488.10,352.75 L488.10,332.05 L482.50,332.05Z" fill="#FF0000" stroke="#1a0000" stroke-width="0.9" stroke-linejoin="miter"/>
<path d="M501.83,323.75 L512.63,341.55 L507.03,341.55 L507.03,362.25 L496.63,362.25 L496.63,341.55 L491.03,341.55Z" fill="#FF0000" stroke="#1a0000" stroke-width="0.9" stroke-linejoin="miter"/>
<path d="M510.37,323.75 L521.17,341.55 L515.57,341.55 L515.57,362.25 L505.17,362.25 L505.17,341.55 L499.57,341.55Z" fill="#FF0000" stroke="#1a0000" stroke-width="0.9" stroke-linejoin="miter"/>
<path d="M511.38,296.28 L528.28,308.45 L523.12,310.63 L531.21,329.69 L521.64,333.75 L513.55,314.70 L508.40,316.89Z" fill="#FF0000" stroke="#1a0000" stroke-width="0.9" stroke-linejoin="miter"/>
<path d="M527.44,295.25 L538.24,313.05 L532.64,313.05 L532.64,333.75 L522.24,333.75 L522.24,313.05 L516.64,313.05Z" fill="#FF0000" stroke="#1a0000" stroke-width="0.9" stroke-linejoin="miter"/>
<path d="M535.98,295.25 L546.78,313.05 L541.18,313.05 L541.18,333.75 L530.78,333.75 L530.78,313.05 L525.18,313.05Z" fill="#FF0000" stroke="#1a0000" stroke-width="0.9" stroke-linejoin="miter"/>
<path d="M544.51,315.25 L555.31,333.05 L549.71,333.05 L549.71,353.75 L539.31,353.75 L539.31,333.05 L533.71,333.05Z" fill="#FF0000" stroke="#1a0000" stroke-width="0.9" stroke-linejoin="miter"/>
<path d="M553.05,314.75 L563.85,332.55 L558.25,332.55 L558.25,353.25 L547.85,353.25 L547.85,332.55 L542.25,332.55Z" fill="#FF0000" stroke="#1a0000" stroke-width="0.9" stroke-linejoin="miter"/>
<path d="M569.72,310.55 L571.98,331.25 L566.91,328.88 L558.16,347.64 L548.74,343.25 L557.48,324.49 L552.41,322.12Z" fill="#FF0000" stroke="#1a0000" stroke-width="0.9" stroke-linejoin="miter"/>
<path d="M577.95,304.41 L580.57,325.07 L575.46,322.79 L567.04,341.70 L557.54,337.47 L565.96,318.56 L560.84,316.28Z" fill="#FF0000" stroke="#1a0000" stroke-width="0.9" stroke-linejoin="miter"/>
<path d="M578.65,303.25 L589.45,321.05 L583.85,321.05 L583.85,341.75 L573.45,341.75 L573.45,321.05 L567.85,321.05Z" fill="#FF0000" stroke="#1a0000" stroke-width="0.9" stroke-linejoin="miter"/>
<path d="M587.19,303.25 L597.99,321.05 L592.39,321.05 L592.39,341.75 L581.99,341.75 L581.99,321.05 L576.39,321.05Z" fill="#FF0000" stroke="#1a0000" stroke-width="0.9" stroke-linejoin="miter"/>
<path d="M588.51,314.15 L605.20,326.61 L600.00,328.71 L607.76,347.90 L598.12,351.80 L590.36,332.60 L585.17,334.70Z" fill="#FF0000" stroke="#1a0000" stroke-width="0.9" stroke-linejoin="miter"/>
<path d="M597.05,315.15 L613.73,327.61 L608.54,329.71 L616.29,348.90 L606.65,352.80 L598.90,333.60 L593.71,335.70Z" fill="#FF0000" stroke="#1a0000" stroke-width="0.9" stroke-linejoin="miter"/>
<path d="M601.76,327.23 L620.81,335.62 L616.23,338.83 L628.10,355.79 L619.58,361.75 L607.71,344.79 L603.12,348.01Z" fill="#FF0000" stroke="#1a0000" stroke-width="0.9" stroke-linejoin="miter"/>
<path d="M608.96,327.25 L628.67,333.95 L624.38,337.55 L637.69,353.40 L629.72,360.09 L616.42,344.23 L612.13,347.83Z" fill="#FF0000" stroke="#1a0000" stroke-width="0.9" stroke-linejoin="miter"/>
<path d="M614.10,338.96 L634.88,340.32 L631.66,344.91 L648.62,356.78 L642.66,365.30 L625.70,353.43 L622.49,358.02Z" fill="#FF0000" stroke="#1a0000" stroke-width="0.9" stroke-linejoin="miter"/>
<path d="M621.41,345.96 L642.19,344.78 L639.57,349.73 L657.84,359.45 L652.96,368.63 L634.68,358.91 L632.05,363.86Z" fill="#FF0000" stroke="#1a0000" stroke-width="0.9" stroke-linejoin="miter"/>
<path d="M629.94,347.96 L650.73,346.78 L648.10,351.73 L666.38,361.45 L661.50,370.63 L643.22,360.91 L640.59,365.86Z" fill="#FF0000" stroke="#1a0000" stroke-width="0.9" stroke-linejoin="miter"/>
<path d="M636.23,341.80 L654.03,331.00 L654.03,336.60 L674.73,336.60 L674.73,347.00 L654.03,347.00 L654.03,352.60Z" fill="#FF0000" stroke="#1a0000" stroke-width="0.9" stroke-linejoin="miter"/>
<path d="M671.22,342.15 L674.57,362.70 L669.38,360.60 L661.62,379.80 L651.98,375.90 L659.73,356.71 L654.54,354.61Z" fill="#FF0000" stroke="#1a0000" stroke-width="0.9" stroke-linejoin="miter"/>
<path d="M673.89,341.80 L683.42,360.31 L677.84,359.92 L676.39,380.57 L666.02,379.84 L667.46,359.19 L661.87,358.80Z" fill="#FF0000" stroke="#1a0000" stroke-width="0.9" stroke-linejoin="miter"/>
<path d="M688.29,378.85 L671.61,366.39 L676.81,364.29 L669.05,345.10 L678.69,341.20 L686.45,360.40 L691.64,358.30Z" fill="#FF0000" stroke="#1a0000" stroke-width="0.9" stroke-linejoin="miter"/>
<path d="M708.80,358.32 L692.00,370.63 L691.52,365.05 L670.90,366.86 L669.99,356.50 L690.61,354.69 L690.12,349.11Z" fill="#FF0000" stroke="#1a0000" stroke-width="0.9" stroke-linejoin="miter"/>
<path d="M709.20,340.23 L707.83,361.01 L703.25,357.79 L691.37,374.75 L682.85,368.79 L694.73,351.83 L690.14,348.62Z" fill="#FF0000" stroke="#1a0000" stroke-width="0.9" stroke-linejoin="miter"/>
<path d="M713.27,334.91 L717.33,355.33 L712.07,353.42 L704.99,372.87 L695.22,369.31 L702.30,349.86 L697.04,347.94Z" fill="#FF0000" stroke="#1a0000" stroke-width="0.9" stroke-linejoin="miter"/>
<path d="M718.57,333.04 L726.11,352.45 L720.60,351.47 L717.00,371.86 L706.76,370.05 L710.36,349.67 L704.84,348.70Z" fill="#FF0000" stroke="#1a0000" stroke-width="0.9" stroke-linejoin="miter"/>
<path d="M723.76,332.75 L734.56,350.55 L728.96,350.55 L728.96,371.25 L718.56,371.25 L718.56,350.55 L712.96,350.55Z" fill="#FF0000" stroke="#1a0000" stroke-width="0.9" stroke-linejoin="miter"/>
<path d="M725.71,333.91 L741.95,346.94 L736.69,348.86 L743.77,368.31 L733.99,371.87 L726.92,352.42 L721.65,354.33Z" fill="#FF0000" stroke="#1a0000" stroke-width="0.9" stroke-linejoin="miter"/>
<path d="M727.70,337.92 L747.74,343.57 L743.65,347.39 L757.76,362.53 L750.16,369.62 L736.04,354.49 L731.95,358.31Z" fill="#FF0000" stroke="#1a0000" stroke-width="0.9" stroke-linejoin="miter"/>
<path d="M731.92,334.86 L752.62,332.60 L750.25,337.67 L769.01,346.42 L764.62,355.85 L745.86,347.10 L743.49,352.18Z" fill="#FF0000" stroke="#1a0000" stroke-width="0.9" stroke-linejoin="miter"/>
<path d="M738.67,341.33 L756.83,331.16 L756.64,336.75 L777.32,337.47 L776.96,347.87 L756.27,347.15 L756.08,352.74Z" fill="#FF0000" stroke="#1a0000" stroke-width="0.9" stroke-linejoin="miter"/>
<path d="M748.35,348.58 L761.38,332.35 L763.30,337.61 L782.75,330.53 L786.31,340.30 L766.86,347.38 L768.77,352.64Z" fill="#FF0000" stroke="#1a0000" stroke-width="0.9" stroke-linejoin="miter"/>
<path d="M761.36,352.61 L766.31,332.39 L770.27,336.35 L784.91,321.71 L792.26,329.07 L777.63,343.70 L781.59,347.66Z" fill="#FF0000" stroke="#1a0000" stroke-width="0.9" stroke-linejoin="miter"/>
<path d="M768.77,343.37 L775.46,323.66 L779.06,327.95 L794.92,314.64 L801.60,322.61 L785.74,335.92 L789.34,340.21Z" fill="#FF0000" stroke="#1a0000" stroke-width="0.9" stroke-linejoin="miter"/>
<path d="M796.38,284.24 L802.90,304.02 L797.44,302.76 L792.78,322.93 L782.65,320.59 L787.31,300.42 L781.85,299.16Z" fill="#FF0000" stroke="#1a0000" stroke-width="0.9" stroke-linejoin="miter"/>
<path d="M800.58,313.25 L789.78,295.45 L795.38,295.45 L795.38,274.75 L805.78,274.75 L805.78,295.45 L811.38,295.45Z" fill="#FFFF00" stroke="#1a0000" stroke-width="0.9" stroke-linejoin="miter"/>
<path d="M817.25,313.45 L799.94,301.88 L805.02,299.51 L796.27,280.75 L805.70,276.36 L814.44,295.12 L819.52,292.75Z" fill="#FFFF00" stroke="#1a0000" stroke-width="0.9" stroke-linejoin="miter"/>
<path d="M835.10,298.14 L814.40,300.40 L816.77,295.33 L798.01,286.58 L802.41,277.15 L821.17,285.90 L823.53,280.82Z" fill="#FFFF00" stroke="#1a0000" stroke-width="0.9" stroke-linejoin="miter"/>
<path d="M844.78,289.02 L830.39,304.06 L828.94,298.65 L808.94,304.01 L806.25,293.96 L826.25,288.60 L824.80,283.19Z" fill="#FFFF00" stroke="#1a0000" stroke-width="0.9" stroke-linejoin="miter"/>
<path d="M852.57,282.79 L840.12,299.47 L838.02,294.28 L818.83,302.03 L814.93,292.39 L834.12,284.64 L832.02,279.44Z" fill="#FFFF00" stroke="#1a0000" stroke-width="0.9" stroke-linejoin="miter"/>
<path d="M860.71,277.86 L849.14,295.18 L846.77,290.10 L828.01,298.85 L823.62,289.42 L842.38,280.67 L840.01,275.60Z" fill="#FFFF00" stroke="#1a0000" stroke-width="0.9" stroke-linejoin="miter"/>
<path d="M868.79,272.96 L858.15,290.86 L855.52,285.91 L837.24,295.63 L832.36,286.45 L850.64,276.73 L848.01,271.78Z" fill="#FFFF00" stroke="#1a0000" stroke-width="0.9" stroke-linejoin="miter"/>
<path d="M867.54,276.65 L870.89,297.20 L865.70,295.10 L857.94,314.30 L848.30,310.40 L856.06,291.21 L850.86,289.11Z" fill="#FFFF00" stroke="#1a0000" stroke-width="0.9" stroke-linejoin="miter"/>
<path d="M876.08,295.15 L879.43,315.70 L874.23,313.60 L866.48,332.80 L856.84,328.90 L864.59,309.71 L859.40,307.61Z" fill="#FF0000" stroke="#1a0000" stroke-width="0.9" stroke-linejoin="miter"/>
<path d="M877.40,294.25 L888.20,312.05 L882.60,312.05 L882.60,332.75 L872.20,332.75 L872.20,312.05 L866.60,312.05Z" fill="#FF0000" stroke="#1a0000" stroke-width="0.9" stroke-linejoin="miter"/>
<path d="M885.94,303.75 L896.74,321.55 L891.14,321.55 L891.14,342.25 L880.74,342.25 L880.74,321.55 L875.14,321.55Z" fill="#FF0000" stroke="#1a0000" stroke-width="0.9" stroke-linejoin="miter"/>
<path d="M894.48,303.75 L905.28,321.55 L899.68,321.55 L899.68,342.25 L889.28,342.25 L889.28,321.55 L883.68,321.55Z" fill="#FF0000" stroke="#1a0000" stroke-width="0.9" stroke-linejoin="miter"/>
<path d="M903.01,313.05 L913.81,330.85 L908.21,330.85 L908.21,351.55 L897.81,351.55 L897.81,330.85 L892.21,330.85Z" fill="#FF0000" stroke="#1a0000" stroke-width="0.9" stroke-linejoin="miter"/>
<path d="M911.55,313.25 L922.35,331.05 L916.75,331.05 L916.75,351.75 L906.35,351.75 L906.35,331.05 L900.75,331.05Z" fill="#FF0000" stroke="#1a0000" stroke-width="0.9" stroke-linejoin="miter"/>
<path d="M920.08,313.25 L930.88,331.05 L925.28,331.05 L925.28,351.75 L914.88,351.75 L914.88,331.05 L909.28,331.05Z" fill="#FF0000" stroke="#1a0000" stroke-width="0.9" stroke-linejoin="miter"/>
<path d="M928.62,283.75 L939.42,301.55 L933.82,301.55 L933.82,322.25 L923.42,322.25 L923.42,301.55 L917.82,301.55Z" fill="#FF0000" stroke="#1a0000" stroke-width="0.9" stroke-linejoin="miter"/>
<path d="M937.15,276.05 L947.95,293.85 L942.35,293.85 L942.35,314.55 L931.95,314.55 L931.95,293.85 L926.35,293.85Z" fill="#FFFF00" stroke="#1a0000" stroke-width="0.9" stroke-linejoin="miter"/>
<path d="M945.69,265.75 L956.49,283.55 L950.89,283.55 L950.89,304.25 L940.49,304.25 L940.49,283.55 L934.89,283.55Z" fill="#FFFF00" stroke="#1a0000" stroke-width="0.9" stroke-linejoin="miter"/>
<path d="M954.23,276.05 L965.03,293.85 L959.43,293.85 L959.43,314.55 L949.03,314.55 L949.03,293.85 L943.43,293.85Z" fill="#FFFF00" stroke="#1a0000" stroke-width="0.9" stroke-linejoin="miter"/>
<path d="M962.76,265.75 L973.56,283.55 L967.96,283.55 L967.96,304.25 L957.56,304.25 L957.56,283.55 L951.96,283.55Z" fill="#FFFF00" stroke="#1a0000" stroke-width="0.9" stroke-linejoin="miter"/>
<path d="M971.30,265.75 L982.10,283.55 L976.50,283.55 L976.50,304.25 L966.10,304.25 L966.10,283.55 L960.50,283.55Z" fill="#FFFF00" stroke="#1a0000" stroke-width="0.9" stroke-linejoin="miter"/>
<path d="M979.83,256.75 L990.63,274.55 L985.03,274.55 L985.03,295.25 L974.63,295.25 L974.63,274.55 L969.03,274.55Z" fill="#FFFF00" stroke="#1a0000" stroke-width="0.9" stroke-linejoin="miter"/>
<path d="M988.37,256.75 L999.17,274.55 L993.57,274.55 L993.57,295.25 L983.17,295.25 L983.17,274.55 L977.57,274.55Z" fill="#FFFF00" stroke="#1a0000" stroke-width="0.9" stroke-linejoin="miter"/>
<path d="M996.90,256.75 L1007.70,274.55 L1002.10,274.55 L1002.10,295.25 L991.70,295.25 L991.70,274.55 L986.10,274.55Z" fill="#FFFF00" stroke="#1a0000" stroke-width="0.9" stroke-linejoin="miter"/>
<path d="M1002.10,266.04 L1015.82,281.70 L1010.31,282.67 L1013.90,303.05 L1003.66,304.86 L1000.07,284.47 L994.55,285.45Z" fill="#FFFF00" stroke="#1a0000" stroke-width="0.9" stroke-linejoin="miter"/>
<path d="M1005.24,277.15 L1022.94,288.10 L1017.95,290.65 L1027.35,309.09 L1018.08,313.81 L1008.68,295.37 L1003.69,297.91Z" fill="#FFFF00" stroke="#1a0000" stroke-width="0.9" stroke-linejoin="miter"/>
<text x="50.8" y="413.5" font-size="17" text-anchor="end" fill="#000">0</text>
<text x="50.8" y="366.2" font-size="17" text-anchor="end" fill="#000">1</text>
<text x="50.8" y="318.8" font-size="17" text-anchor="end" fill="#000">2</text>
<text x="50.8" y="271.5" font-size="17" text-anchor="end" fill="#000">3</text>
<text x="50.8" y="224.2" font-size="17" text-anchor="end" fill="#000">4</text>
<text x="50.8" y="176.8" font-size="17" text-anchor="end" fill="#000">5</text>
<text x="50.8" y="129.5" font-size="17" text-anchor="end" fill="#000">6</text>
<text x="1027.5" y="413.5" font-size="17" fill="#000">0</text>
<text x="1027.5" y="366.2" font-size="17" fill="#000">5</text>
<text x="1027.5" y="318.8" font-size="17" fill="#000">10</text>
<text x="1027.5" y="271.5" font-size="17" fill="#000">15</text>
<text x="1027.5" y="224.2" font-size="17" fill="#000">20</text>
<text x="1027.5" y="176.8" font-size="17" fill="#000">25</text>
<text x="1027.5" y="129.5" font-size="17" fill="#000">30</text>
<text transform="translate(20.3,266.6) rotate(-90)" font-size="23" text-anchor="middle" fill="#000">Wave Height - Metres</text>
<text transform="translate(1059.4,264.5) rotate(90)" font-size="23" text-anchor="middle" fill="#000">Wind Speed - Knots</text>
<text x="1011" y="401" font-size="11.2" text-anchor="end" fill="#A8A8A8">www.seabreeze.com.au</text>
<text x="128.3" y="435" font-size="16.6" text-anchor="middle" fill="#000">Thursday</text>
<text x="129.8" y="459" font-size="18.5" letter-spacing="1.1" text-anchor="middle" fill="#7A7A7A">22nd</text>
<text x="264.9" y="435" font-size="16.6" text-anchor="middle" fill="#000">Friday</text>
<text x="266.4" y="459" font-size="18.5" letter-spacing="1.1" text-anchor="middle" fill="#7A7A7A">23rd</text>
<text x="403.9" y="435" font-size="16.5" font-weight="bold" text-anchor="middle" fill="#000">Saturday</text>
<text x="402.9" y="459" font-size="18.5" letter-spacing="1.1" text-anchor="middle" fill="#7A7A7A">24th</text>
<text x="540.5" y="435" font-size="16.5" font-weight="bold" text-anchor="middle" fill="#000">Sunday</text>
<text x="539.5" y="459" font-size="18.5" letter-spacing="1.1" text-anchor="middle" fill="#7A7A7A">25th</text>
<text x="674.6" y="435" font-size="16.6" text-anchor="middle" fill="#000">Monday</text>
<text x="676.1" y="459" font-size="18.5" letter-spacing="1.1" text-anchor="middle" fill="#7A7A7A">26th</text>
<text x="811.1" y="435" font-size="16.6" text-anchor="middle" fill="#000">Tuesday</text>
<text x="812.6" y="459" font-size="18.5" letter-spacing="1.1" text-anchor="middle" fill="#7A7A7A">27th</text>
<text x="947.7" y="435" font-size="16.6" text-anchor="middle" fill="#000">Wednesday</text>
<text x="949.2" y="459" font-size="18.5" letter-spacing="1.1" text-anchor="middle" fill="#7A7A7A">28th</text>
</svg></body></html>
